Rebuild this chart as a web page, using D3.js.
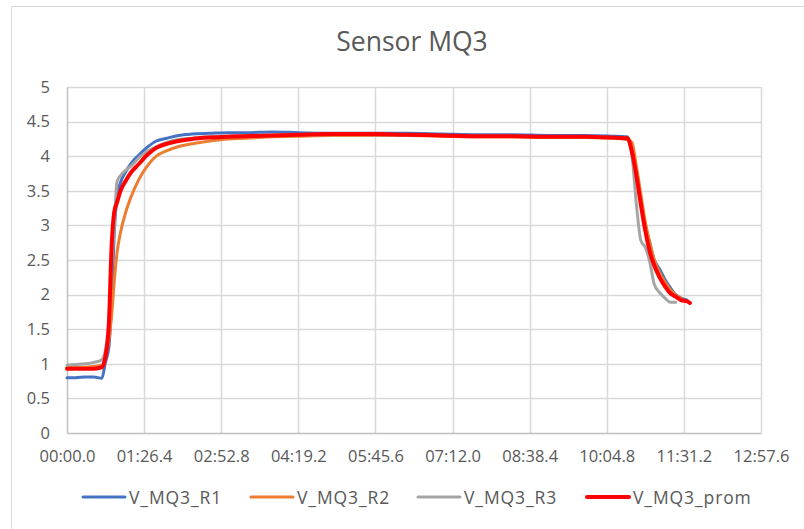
<!DOCTYPE html>
<html>
<head>
<meta charset="utf-8">
<script src="https://cdn.jsdelivr.net/npm/d3@7"></script>
<style>
  html, body { margin: 0; padding: 0; background: #fff; }
  svg { display: block; }
  text { font-family: "Open Sans", "Noto Sans", sans-serif; fill: #595959; }
</style>
</head>
<body>
<svg id="chart" width="804" height="529"></svg>
<script>
// ---- data (time in seconds) ----
const times = [0,10,20,30,39,43,47,50,53,56,60,66,72,80,90,100,112,125,140,160,180,200,230,260,300,340,380,420,460,500,540,580,610,628,633,638,643,648,653,658,664,670,676,682,688,695,698];
const seriesNames = ["V_MQ3_R1", "V_MQ3_R2", "V_MQ3_R3", "V_MQ3_prom"];
const r1 = [0.80,0.80,0.81,0.81, 0.79,1.02,1.25,1.9,2.9,3.4, 3.62,3.78,3.9,4.01,4.13,4.22, 4.26,4.30,4.32,4.33,4.34,4.34, 4.35,4.34,4.33,4.33,4.33,4.32, 4.31,4.31,4.30,4.30,4.29,4.28, 4.06,3.75,3.38,3.0,2.75,2.5, 2.37,2.22,2.1,2.0,1.95,1.92, null];
const r2 = [0.95,0.95,0.95,0.96, 0.98,1.1,1.35,1.7,2.2,2.6, 2.9,3.2,3.42,3.65,3.86,4.0, 4.08,4.14,4.18,4.22,4.25,4.26, 4.28,4.29,4.30,4.30,4.30,4.29, 4.28,4.28,4.27,4.27,4.26,4.24, 4.2,3.85,3.45,3.05,2.75,2.5, 2.32,2.18,2.07,1.99,1.95,null, null];
const r3 = [0.98,0.99,1.0,1.02, 1.06,1.2,1.6,2.4,3.0,3.63, 3.72,3.8,3.86,3.97,4.07,4.14, 4.2,4.24,4.26,4.28,4.29,4.30, 4.30,4.31,4.31,4.31,4.30,4.30, 4.29,4.29,4.28,4.28,4.27,4.26, 4.02,3.3,2.78,2.68,2.47,2.15, 2.03,1.95,1.89,1.89,null,null, null];
const prom = [0.93,0.93,0.93,0.93, 0.95,1.1,1.6,2.7,3.2,3.33, 3.5,3.65,3.77,3.88,4.02,4.12, 4.18,4.22,4.25,4.27,4.28,4.29, 4.30,4.31,4.32,4.32,4.31,4.30, 4.29,4.29,4.28,4.28,4.27,4.26, 4.06,3.72,3.3,2.92,2.62,2.42, 2.25,2.12,2.02,1.97,1.92,1.90, 1.88];
const xTickValues = [0, 86.4, 172.8, 259.2, 345.6, 432, 518.4, 604.8, 691.2, 777.6];
const xTickLabels = ["00:00.0","01:26.4","02:52.8","04:19.2","05:45.6","07:12.0","08:38.4","10:04.8","11:31.2","12:57.6"];
const yTickValues = [0, 0.5, 1, 1.5, 2, 2.5, 3, 3.5, 4, 4.5, 5];
const yTickLabels = ["0","0.5","1","1.5","2","2.5","3","3.5","4","4.5","5"];
const colors = ["#4472C4", "#ED7D31", "#A5A5A5", "#FF0000"];
const widths = [3, 3, 3, 4];

// ---- layout ----
const svg = d3.select("#chart");
const plot = { left: 67, right: 761, top: 87, bottom: 433 };
const x = d3.scaleLinear().domain([0, 777.6]).range([plot.left, plot.right]);
const y = d3.scaleLinear().domain([0, 5]).range([plot.bottom, plot.top]);

// chart border
svg.append("path")
  .attr("d", "M11.5,529 L11.5,6.5 L804,6.5")
  .attr("fill", "none").attr("stroke", "#D9D9D9").attr("stroke-width", 1);

// title
svg.append("text").attr("x", 412).attr("y", 51)
  .attr("text-anchor", "middle").attr("font-size", 26.5).text("Sensor MQ3");

// gridlines
const grid = svg.append("g");
grid.selectAll("line.h").data(yTickValues.slice(1)).join("line")
  .attr("x1", plot.left).attr("x2", plot.right)
  .attr("y1", d => Math.round(y(d)) + 0.5).attr("y2", d => Math.round(y(d)) + 0.5)
  .attr("stroke", "#D9D9D9").attr("stroke-width", 1.5);
grid.selectAll("line.v").data(xTickValues.slice(1)).join("line")
  .attr("y1", plot.top).attr("y2", plot.bottom)
  .attr("x1", d => Math.round(x(d)) + 0.5).attr("x2", d => Math.round(x(d)) + 0.5)
  .attr("stroke", "#D9D9D9").attr("stroke-width", 1.5);

// axes
const yAxis = d3.axisLeft(y).tickValues(yTickValues)
  .tickFormat((d, i) => yTickLabels[i]).tickSize(0).tickPadding(17);
const gy = svg.append("g").attr("transform", `translate(${plot.left},0)`).call(yAxis);
gy.select(".domain").attr("stroke", "#BFBFBF").attr("stroke-width", 1.5);
gy.selectAll("text").attr("font-size", 16.5).attr("fill", "#595959")
  .attr("font-family", "'Open Sans', 'Noto Sans', sans-serif");

const xAxis = d3.axisBottom(x).tickValues(xTickValues)
  .tickFormat((d, i) => xTickLabels[i]).tickSize(0).tickPadding(17);
const gx = svg.append("g").attr("transform", `translate(0,${plot.bottom})`).call(xAxis);
gx.select(".domain").attr("stroke", "#BFBFBF").attr("stroke-width", 1.5);
gx.selectAll("text").attr("font-size", 16.5).attr("fill", "#595959")
  .attr("font-family", "'Open Sans', 'Noto Sans', sans-serif");

// lines
const allSeries = [r1, r2, r3, prom];
const line = d3.line()
  .defined(d => d.v != null)
  .x(d => x(d.t)).y(d => y(d.v))
  .curve(d3.curveMonotoneX);
allSeries.forEach((vals, i) => {
  const pts = times.map((t, k) => ({ t: t, v: vals[k] }));
  svg.append("path").datum(pts)
    .attr("d", line)
    .attr("fill", "none")
    .attr("stroke", colors[i])
    .attr("stroke-width", widths[i])
    .attr("stroke-linejoin", "round")
    .attr("stroke-linecap", "round");
});

// legend
const legendX = [83, 251, 418, 587];
const legend = svg.append("g");
seriesNames.forEach((name, i) => {
  const g = legend.append("g").attr("transform", `translate(${legendX[i]},497)`);
  g.append("line").attr("x1", 0).attr("x2", 42).attr("y1", 0).attr("y2", 0)
    .attr("stroke", colors[i]).attr("stroke-width", widths[i]).attr("stroke-linecap", "round");
  g.append("text").attr("x", 46).attr("y", 6.5).attr("font-size", 17.5)
    .attr("letter-spacing", 0.9).text(name);
});
</script>
</body>
</html>
